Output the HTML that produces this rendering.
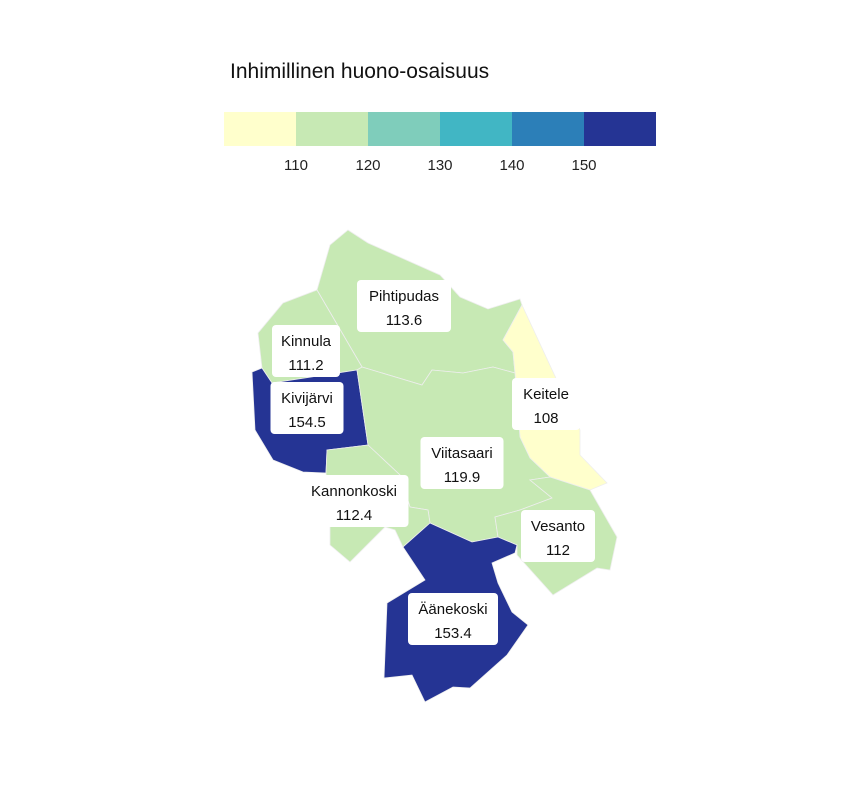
<!DOCTYPE html>
<html><head><meta charset="utf-8"><style>
body{margin:0;background:#fff;}
svg text{font-family:"Liberation Sans",sans-serif;}
</style></head><body>
<svg id="map" width="864" height="792">
<text x="230" y="78" font-size="21" fill="#111">Inhimillinen huono-osaisuus</text>
<g id="legend"></g>
<g id="regions"></g>
<g id="labels"></g>
</svg>
<script>
const names=["Pihtipudas","Kinnula","Kivijärvi","Keitele","Viitasaari","Kannonkoski","Vesanto","Äänekoski"];
const values=[113.6,111.2,154.5,108,119.9,112.4,112,153.4];
const breaks=[110,120,130,140,150];
const colors=["#ffffcc","#c7e9b4","#7fcdbb","#41b6c4","#2c7fb8","#253494"];
const shapes={
"Pihtipudas":[[348,230],[368,243],[440,275],[460,297],[488,309],[520,299],[522,305],[503,340],[513,352],[515,373],[493,367],[463,373],[432,370],[422,385],[362,367],[317,290],[330,245]],
"Kinnula":[[317,290],[362,367],[357,370],[272,383],[262,368],[258,333],[283,303]],
"Kivijärvi":[[252,372],[262,368],[272,383],[357,370],[368,445],[327,450],[326,473],[303,472],[273,460],[255,430]],
"Keitele":[[522,305],[580,430],[580,455],[607,483],[590,490],[550,477],[530,458],[520,437],[515,373],[513,352],[503,340]],
"Viitasaari":[[362,367],[422,385],[432,370],[463,373],[493,367],[515,373],[520,437],[530,458],[550,477],[530,480],[552,498],[520,510],[495,517],[498,537],[472,542],[430,523],[428,510],[410,507],[400,475],[368,445],[357,370]],
"Kannonkoski":[[327,450],[368,445],[400,475],[410,507],[428,510],[430,523],[403,547],[395,530],[385,527],[350,562],[330,545],[330,525],[326,473]],
"Vesanto":[[530,480],[550,477],[590,490],[617,537],[610,570],[597,568],[553,595],[517,555],[517,545],[498,537],[495,517],[520,510],[552,498]],
"Äänekoski":[[430,523],[472,542],[498,537],[517,545],[515,553],[492,563],[498,583],[512,612],[528,625],[507,655],[470,688],[453,687],[425,702],[412,675],[384,678],[387,603],[425,580],[403,547]]
};
const boxes={"Pihtipudas":[404,280],"Kinnula":[306,325],"Kivijärvi":[307,382],"Keitele":[546,378],"Viitasaari":[462,437],"Kannonkoski":[354,475],"Vesanto":[558,510],"Äänekoski":[453,593]};
const boxW={"Pihtipudas":94,"Kinnula":68,"Kivijärvi":73,"Keitele":68,"Viitasaari":83,"Kannonkoski":109,"Vesanto":74,"Äänekoski":90};
const NS="http://www.w3.org/2000/svg";
function colorFor(v){let i=0;while(i<breaks.length&&v>=breaks[i])i++;return colors[i];}
const lg=document.getElementById('legend');
colors.forEach((c,i)=>{const r=document.createElementNS(NS,'rect');
r.setAttribute('x',224+i*72);r.setAttribute('y',112);r.setAttribute('width',72);r.setAttribute('height',34);r.setAttribute('fill',c);


lg.appendChild(r);});
breaks.forEach((b,i)=>{const t=document.createElementNS(NS,'text');
t.setAttribute('x',296+i*72);t.setAttribute('y',170);t.setAttribute('text-anchor','middle');t.setAttribute('font-size','15');t.setAttribute('fill','#222');t.textContent=b;


lg.appendChild(t);});
const rg=document.getElementById('regions'),lb=document.getElementById('labels');
names.forEach((n,i)=>{const p=document.createElementNS(NS,'polygon');
p.setAttribute('points',shapes[n].map(q=>q.join(',')).join(' '));
p.setAttribute('fill',colorFor(values[i]));p.setAttribute('stroke','#eeeeee');p.setAttribute('stroke-width','0.8');


rg.appendChild(p);
const [cx,y]=boxes[n],w=boxW[n];
const g=document.createElementNS(NS,'g');


const r=document.createElementNS(NS,'rect');r.setAttribute('x',cx-w/2);r.setAttribute('y',y);r.setAttribute('width',w);r.setAttribute('height',52);r.setAttribute('rx',4);r.setAttribute('fill','#fff');g.appendChild(r);
const t1=document.createElementNS(NS,'text');t1.setAttribute('x',cx);t1.setAttribute('y',y+21);t1.setAttribute('text-anchor','middle');t1.setAttribute('font-size','15');t1.setAttribute('fill','#111');t1.textContent=n;g.appendChild(t1);
const t2=document.createElementNS(NS,'text');t2.setAttribute('x',cx);t2.setAttribute('y',y+45);t2.setAttribute('text-anchor','middle');t2.setAttribute('font-size','15');t2.setAttribute('fill','#111');t2.textContent=values[i];g.appendChild(t2);
lb.appendChild(g);});
</script>
</body></html>
